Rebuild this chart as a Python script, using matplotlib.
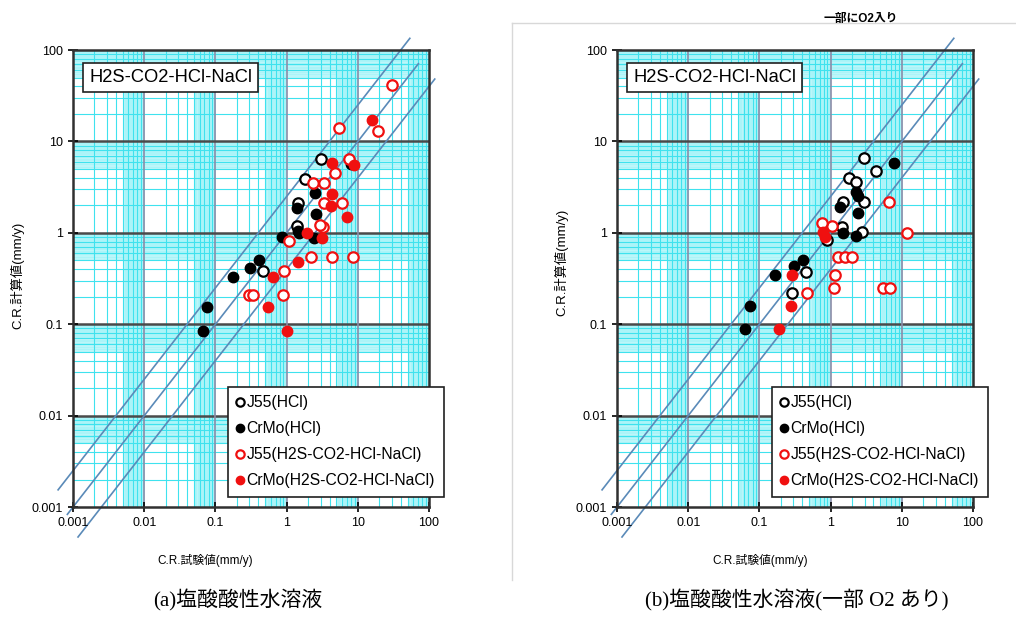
import matplotlib
matplotlib.use("Agg")
import matplotlib.pyplot as plt
import numpy as np
from matplotlib.lines import Line2D

plt.rcParams['font.family'] = ['Liberation Sans', 'Noto Sans CJK JP']

# ---- data: C.R. test value (x) vs C.R. calculated value (y), mm/y ----
# panel (a)
a_j55_hcl_x = [3.0, 1.81, 1.46, 1.41, 0.46]
a_j55_hcl_y = [6.5, 3.85, 2.1, 1.19, 0.38]
a_crmo_hcl_x = [8.0, 2.5, 1.39, 2.6, 1.5, 1.46, 2.4, 0.85, 0.41, 0.31, 0.175, 0.0755, 0.066]
a_crmo_hcl_y = [5.7, 2.7, 1.85, 1.6, 1.0, 1.05, 0.87, 0.89, 0.5, 0.41, 0.33, 0.156, 0.085]
a_j55_mix_x = [30, 19, 5.5, 7.4, 4.7, 2.37, 3.3, 3.3, 5.9, 3.2, 2.95, 1.09, 2.2, 4.3, 8.5, 0.92, 0.30, 0.34, 0.9]
a_j55_mix_y = [41, 13, 14, 6.4, 4.5, 3.5, 3.5, 2.1, 2.1, 1.15, 1.22, 0.81, 0.54, 0.54, 0.54, 0.38, 0.21, 0.21, 0.21]
a_crmo_mix_x = [16, 4.3, 8.7, 4.4, 4.2, 7.1, 1.9, 3.1, 1.46, 0.64, 0.55, 1.0]
a_crmo_mix_y = [17, 5.8, 5.5, 2.65, 1.96, 1.48, 1.0, 0.87, 0.48, 0.33, 0.156, 0.085]

# panel (b)
b_j55_hcl_x = [2.94, 4.4, 1.83, 2.3, 2.9, 1.48, 1.43, 2.8, 0.88, 0.45, 0.284]
b_j55_hcl_y = [6.6, 4.7, 4.0, 3.6, 2.2, 2.2, 1.17, 1.03, 0.83, 0.376, 0.218]
b_crmo_hcl_x = [7.8, 2.3, 2.45, 1.36, 2.45, 1.48, 2.3, 0.41, 0.306, 0.166, 0.074, 0.063]
b_crmo_hcl_y = [5.75, 2.8, 2.5, 1.93, 1.63, 1.0, 0.92, 0.5, 0.43, 0.345, 0.158, 0.088]
b_j55_mix_x = [6.7, 1.04, 0.75, 11.9, 1.26, 1.6, 2.0, 1.15, 1.12, 5.5, 6.8, 0.47]
b_j55_mix_y = [2.2, 1.19, 1.29, 1.0, 0.55, 0.55, 0.55, 0.345, 0.247, 0.247, 0.247, 0.218]
b_crmo_mix_x = [0.79, 0.83, 0.284, 0.275, 0.19]
b_crmo_mix_y = [1.03, 0.89, 0.345, 0.158, 0.088]

series_labels = ['J55(HCl)', 'CrMo(HCl)', 'J55(H2S-CO2-HCl-NaCl)', 'CrMo(H2S-CO2-HCl-NaCl)']
tick_vals = [0.001, 0.01, 0.1, 1, 10, 100]
tick_text = ['0.001', '0.01', '0.1', '1', '10', '100']
# reference lines y = r * x, with their x extent (log10)
ref_ratio = [2.5, 1.0, 0.4]
ref_xlog = [(-3.21, 1.73), (-3.08, 1.85), (-2.93, 2.08)]

RED = '#f01010'


def draw_panel(ax, data):
    ax.set_xscale('log')
    ax.set_yscale('log')
    ax.set_xlim(0.001, 100)
    ax.set_ylim(0.001, 100)

    # graph-paper background
    for d in range(-3, 2):
        base = 10.0 ** d
        for m in np.arange(5.1, 10.0, 0.1):
            ax.axvline(m * base, color='#a8f4f8', lw=0.55, zorder=0)
            ax.axhline(m * base, color='#a8f4f8', lw=0.55, zorder=0)
        for m in range(2, 10):
            ax.axvline(m * base, color='#3fe2ee', lw=0.8, zorder=0.5)
            ax.axhline(m * base, color='#3fe2ee', lw=0.8, zorder=0.5)
    for v in tick_vals[1:-1]:
        ax.axvline(v, color='#8c8ca8', lw=1.2, zorder=0.8)
        ax.axhline(v, color='#4a4a4a', lw=1.8, zorder=0.8)

    for r, (x0, x1) in zip(ref_ratio, ref_xlog):
        xs = np.array([10 ** x0, 10 ** x1])
        ax.plot(xs, r * xs, color='#5a8ab8', lw=1.2, clip_on=False, zorder=1)

    (jx, jy), (cx, cy), (jmx, jmy), (cmx, cmy) = data
    ms = 7.5
    ax.plot(jx, jy, 'o', ms=ms, mfc='white', mec='black', mew=1.6, ls='none', label=series_labels[0], zorder=3)
    ax.plot(cx, cy, 'o', ms=ms, mfc='black', mec='black', mew=1.0, ls='none', label=series_labels[1], zorder=3)
    ax.plot(jmx, jmy, 'o', ms=ms, mfc='white', mec=RED, mew=1.6, ls='none', label=series_labels[2], zorder=3)
    ax.plot(cmx, cmy, 'o', ms=ms, mfc=RED, mec=RED, mew=1.0, ls='none', label=series_labels[3], zorder=3)

    ax.set_xticks(tick_vals)
    ax.set_xticklabels(tick_text)
    ax.set_yticks(tick_vals)
    ax.set_yticklabels(tick_text)
    ax.minorticks_off()
    ax.tick_params(direction='inout', length=7, width=1.2, labelsize=9, pad=4)
    for s in ax.spines.values():
        s.set_color('#303030')
        s.set_linewidth(1.8)
        s.set_zorder(4)

    leg = ax.legend(loc='lower left', bbox_to_anchor=(0.435, 0.022), fontsize=11.3,
                    frameon=True, fancybox=False, framealpha=1, edgecolor='#202020',
                    handlelength=0.5, handletextpad=0.15, labelspacing=0.7,
                    borderpad=0.55, borderaxespad=0, markerscale=0.8)
    leg.get_frame().set_linewidth(1.2)
    leg.set_zorder(5)

    ax.text(0.045, 0.94, 'H2S-CO2-HCl-NaCl', transform=ax.transAxes, fontsize=13.2,
            va='center', ha='left', zorder=5,
            bbox=dict(boxstyle='square,pad=0.32', fc='white', ec='#202020', lw=1.2))


fig = plt.figure(figsize=(10.16, 6.19), dpi=100)
ax_a = fig.add_axes([0.0719, 0.1809, 0.3504, 0.7383])
ax_b = fig.add_axes([0.6073, 0.1809, 0.3504, 0.7383])

draw_panel(ax_a, [(a_j55_hcl_x, a_j55_hcl_y), (a_crmo_hcl_x, a_crmo_hcl_y),
                  (a_j55_mix_x, a_j55_mix_y), (a_crmo_mix_x, a_crmo_mix_y)])
draw_panel(ax_b, [(b_j55_hcl_x, b_j55_hcl_y), (b_crmo_hcl_x, b_crmo_hcl_y),
                  (b_j55_mix_x, b_j55_mix_y), (b_crmo_mix_x, b_crmo_mix_y)])

# axis labels
fig.text(17 / 1016, 1 - 275 / 619, 'C.R.計算値(mm/y)', rotation=90, fontsize=9.5,
         ha='center', va='center')
fig.text(561 / 1016, 1 - 262 / 619, 'C.R.計算値(mm/y)', rotation=90, fontsize=9.5,
         ha='center', va='center')
fig.text(205 / 1016, 1 - 560 / 619, 'C.R.試験値(mm/y)', fontsize=8.5, ha='center', va='center')
fig.text(760 / 1016, 1 - 560 / 619, 'C.R.試験値(mm/y)', fontsize=8.5, ha='center', va='center')

fig.text(861 / 1016, 1 - 19 / 619, '一部にO2入り', fontsize=8.5, fontweight='bold',
         ha='center', va='center')

# thin frame around panel (b)
fig.add_artist(Line2D([512 / 1016, 1.0], [1 - 23 / 619, 1 - 23 / 619], color='#d8d8d8', lw=1))
fig.add_artist(Line2D([512 / 1016, 512 / 1016], [1 - 23 / 619, 1 - 580 / 619], color='#d8d8d8', lw=1))

cap_font = ['Liberation Serif', 'Noto Sans CJK JP']
fig.text(238 / 1016, 1 - 600 / 619, '(a)塩酸酸性水溶液', fontsize=15, family=cap_font,
         ha='center', va='center')
fig.text(797 / 1016, 1 - 600 / 619, '(b)塩酸酸性水溶液(一部 O2 あり)', fontsize=15, family=cap_font,
         ha='center', va='center')

fig.savefig('out.png', dpi=100)
